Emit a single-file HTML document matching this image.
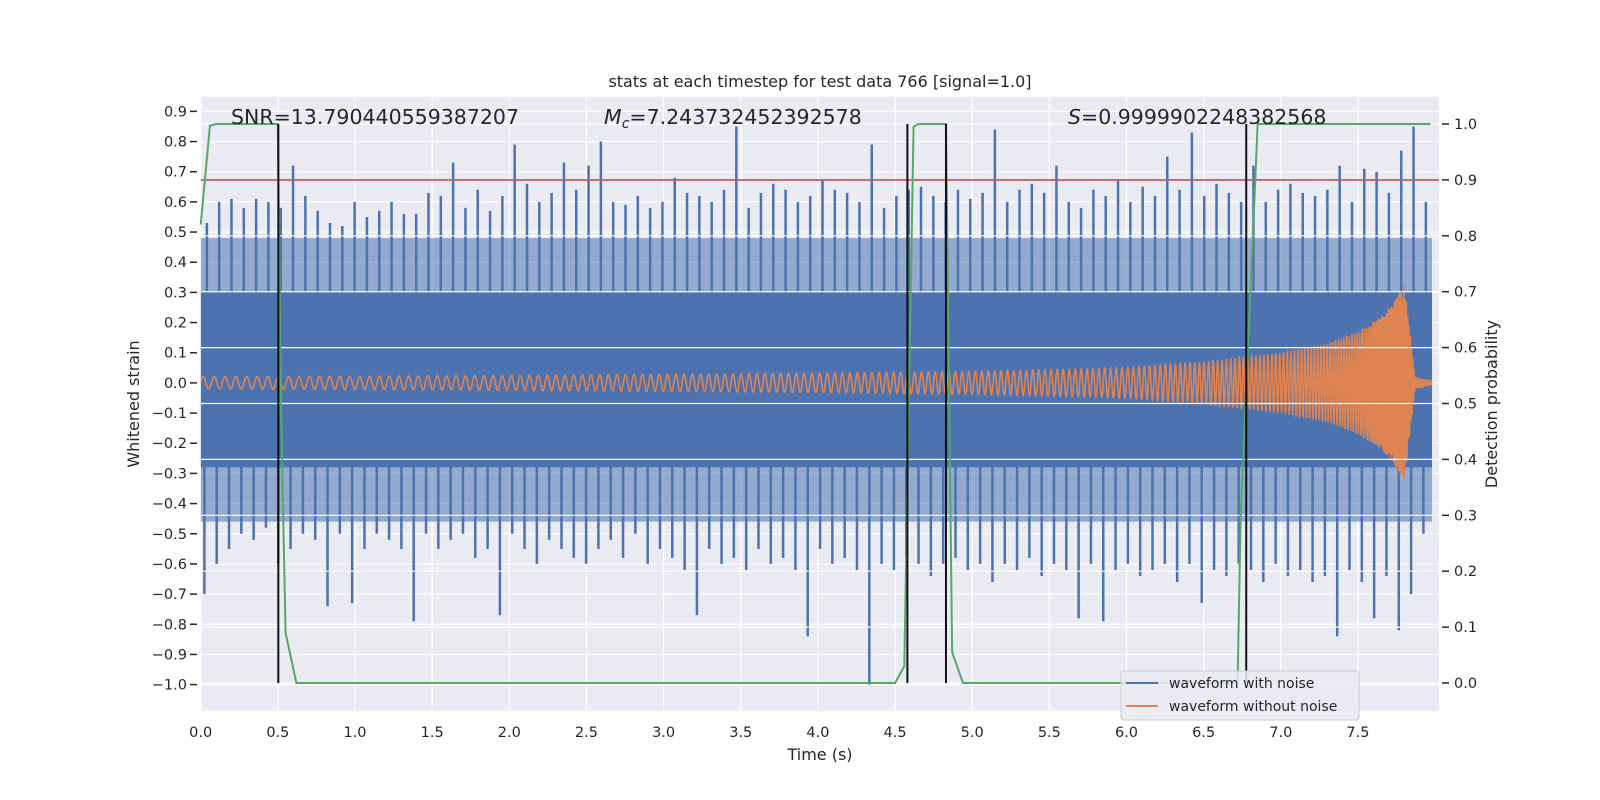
<!DOCTYPE html>
<html><head><meta charset="utf-8">
<style>
body{margin:0;background:#fff;}
svg{display:block;font-family:"DejaVu Sans","Liberation Sans",sans-serif;}
</style></head>
<body>
<svg id="chart" width="1600" height="800" viewBox="0 0 1600 800" xmlns="http://www.w3.org/2000/svg"></svg>
<script>
// ---- data ----
const xTicks=[0,0.5,1,1.5,2,2.5,3,3.5,4,4.5,5,5.5,6,6.5,7,7.5];
const yLeftTicks=[0.9,0.8,0.7,0.6,0.5,0.4,0.3,0.2,0.1,0,-0.1,-0.2,-0.3,-0.4,-0.5,-0.6,-0.7,-0.8,-0.9,-1.0];
const yRightTicks=[0,0.1,0.2,0.3,0.4,0.5,0.6,0.7,0.8,0.9,1.0];
const noiseUpper=[0.53,0.6,0.61,0.58,0.61,0.6,0.58,0.72,0.62,0.57,0.53,0.52,0.6,0.55,0.57,0.6,0.56,0.56,0.63,0.62,0.73,0.58,0.64,0.57,0.62,0.79,0.66,0.6,0.63,0.73,0.64,0.72,0.8,0.6,0.59,0.62,0.58,0.6,0.68,0.63,0.62,0.6,0.64,0.85,0.58,0.63,0.66,0.64,0.6,0.62,0.67,0.64,0.63,0.6,0.79,0.58,0.62,0.64,0.65,0.62,0.6,0.64,0.61,0.63,0.84,0.6,0.64,0.66,0.63,0.72,0.6,0.58,0.64,0.62,0.67,0.6,0.65,0.62,0.75,0.64,0.83,0.62,0.66,0.63,0.6,0.72,0.6,0.64,0.66,0.63,0.62,0.64,0.72,0.6,0.71,0.7,0.63,0.77,0.85,0.6];
const noiseLower=[-0.7,-0.6,-0.55,-0.5,-0.52,-0.48,-0.6,-0.55,-0.5,-0.52,-0.74,-0.5,-0.73,-0.55,-0.5,-0.52,-0.55,-0.79,-0.5,-0.55,-0.52,-0.5,-0.58,-0.55,-0.77,-0.5,-0.55,-0.6,-0.52,-0.55,-0.58,-0.6,-0.55,-0.52,-0.58,-0.5,-0.6,-0.55,-0.58,-0.62,-0.77,-0.55,-0.6,-0.58,-0.62,-0.55,-0.6,-0.58,-0.62,-0.84,-0.55,-0.6,-0.58,-0.62,-1.0,-0.6,-0.62,-0.58,-0.6,-0.64,-0.6,-0.58,-0.62,-0.6,-0.66,-0.6,-0.62,-0.58,-0.64,-0.6,-0.62,-0.78,-0.6,-0.79,-0.62,-0.6,-0.64,-0.62,-0.6,-0.66,-0.6,-0.73,-0.62,-0.64,-0.6,-0.62,-0.66,-0.6,-0.64,-0.62,-0.66,-0.64,-0.84,-0.62,-0.66,-0.78,-0.64,-0.82,-0.7,-0.5];
const chirpAmpT=[0,1,2,3,4,5,6,6.5,7,7.3,7.5,7.65,7.75,7.8,7.83,7.87,7.98];
const chirpAmp=[0.02,0.022,0.025,0.028,0.032,0.038,0.05,0.07,0.1,0.13,0.17,0.22,0.28,0.33,0.2,0.02,0.005];
const chirpFreqT=[0,2,4,6,7,7.5,7.8,7.98];
const chirpFreq=[14,17,20,27,40,60,120,120];
const probT=[0,0.06,0.1,0.5,0.52,0.55,0.62,4.5,4.56,4.62,4.65,4.83,4.87,4.94,6.72,6.74,6.85,7.97];
const probV=[0.82,0.997,1.0,1.0,0.5,0.09,0,0,0.03,0.995,1.0,1.0,0.055,0,0,0.3,1.0,1.0];
const detectLines=[0.503,4.58,4.83,6.776];
const threshold=[0.9];
// ---- scales ----
const X0=200.7,PX=154.3,L=200.7,R=1439,T=97,B=710.7;
const sx=t=>X0+t*PX;
const syL=v=>382.9-v*301.7;
const syR=p=>683-p*559;
const NS="http://www.w3.org/2000/svg";
const svg=document.getElementById('chart');
function mk(tag,attrs,parent){const e=document.createElementNS(NS,tag);for(const k in attrs)e.setAttribute(k,attrs[k]);(parent||svg).appendChild(e);return e;}
const defs=mk('defs',{});
const cp=mk('clipPath',{id:'clip'},defs);mk('rect',{x:L,y:T,width:R-L,height:B-T},cp);

let bg=mk('rect',{x:L,y:T,width:R-L,height:B-T,fill:'#eaeaf2'});


const gridL=mk('g',{stroke:'#fff','stroke-width':1.2});


xTicks.forEach(t=>mk('line',{x1:sx(t),x2:sx(t),y1:T,y2:B},gridL));
yLeftTicks.forEach(v=>mk('line',{x1:L,x2:R,y1:syL(v),y2:syL(v)},gridL));
const noiseG=mk('g',{'clip-path':'url(#clip)'});


const tEnd=7.98;
mk('rect',{x:sx(0),width:sx(tEnd)-sx(0),y:syL(0.3),height:syL(-0.28)-syL(0.3),fill:'#4c72b0'},noiseG);
mk('rect',{x:sx(0),width:sx(tEnd)-sx(0),y:syL(0.48),height:syL(0.3)-syL(0.48),fill:'#4c72b0',opacity:0.55},noiseG);
mk('rect',{x:sx(0),width:sx(tEnd)-sx(0),y:syL(-0.28),height:syL(-0.46)-syL(-0.28),fill:'#4c72b0',opacity:0.55},noiseG);
const bw=tEnd/noiseUpper.length;
noiseUpper.forEach((v,i)=>{const l=mk('line',{x1:sx((i+0.5)*bw),x2:sx((i+0.5)*bw),y1:syL(0),y2:syL(v),stroke:'#4c72b0','stroke-width':2.5},noiseG);

});
const bw2=tEnd/noiseLower.length;
noiseLower.forEach((v,i)=>{const l=mk('line',{x1:sx((i+0.3)*bw2),x2:sx((i+0.3)*bw2),y1:syL(0),y2:syL(v),stroke:'#4c72b0','stroke-width':2.5},noiseG);

});
function interp(ts,vs,t){if(t<=ts[0])return vs[0];for(let i=1;i<ts.length;i++){if(t<=ts[i]){const f=(t-ts[i-1])/(ts[i]-ts[i-1]);return vs[i-1]+f*(vs[i]-vs[i-1]);}}return vs[vs.length-1];}
let ph=0,pts=[];const dt=0.0015;
for(let t=0;t<=tEnd;t+=dt){const a=interp(chirpAmpT,chirpAmp,t);const f=interp(chirpFreqT,chirpFreq,t);ph+=2*Math.PI*f*dt;pts.push(sx(t).toFixed(2)+','+syL(a*Math.sin(ph)).toFixed(2));}
let ch=mk('polyline',{points:pts.join(' '),fill:'none',stroke:'#dd8452','stroke-width':1.6,'clip-path':'url(#clip)'});


const gridR=mk('g',{stroke:'#fff','stroke-width':1.2});


yRightTicks.forEach(p=>mk('line',{x1:L,x2:R,y1:syR(p),y2:syR(p)},gridR));
threshold.forEach(p=>{const l=mk('line',{x1:L,x2:R,y1:syR(p),y2:syR(p),stroke:'#c44e52','stroke-width':1.6});

});
let pp=probT.map((t,i)=>sx(t)+','+syR(probV[i])).join(' ');
let pl=mk('polyline',{points:pp,fill:'none',stroke:'#55a868','stroke-width':2});


detectLines.forEach(t=>{const l=mk('line',{x1:sx(t),x2:sx(t),y1:syR(0),y2:syR(1),stroke:'#111','stroke-width':2});

});
const tc='#262626';
xTicks.forEach(t=>{const tx=mk('text',{x:sx(t),y:737,'text-anchor':'middle','font-size':14.5,fill:tc});tx.textContent=t.toFixed(1);

});
yLeftTicks.forEach(v=>{mk('line',{x1:190,x2:197,y1:syL(v),y2:syL(v),stroke:tc,'stroke-width':1.5});const tx=mk('text',{x:187,y:syL(v)+5,'text-anchor':'end','font-size':14.5,fill:tc});tx.textContent=(v<0?'\u2212':'')+Math.abs(v).toFixed(1);

});
yRightTicks.forEach(p=>{mk('line',{x1:1442,x2:1449,y1:syR(p),y2:syR(p),stroke:tc,'stroke-width':1.5});const tx=mk('text',{x:1454,y:syR(p)+5,'font-size':14.5,fill:tc});tx.textContent=p.toFixed(1);

});
</script>
<svg style="position:absolute;left:0;top:0" width="1600" height="800">
<g font-family="DejaVu Sans, Liberation Sans, sans-serif" fill="#262626">
<text x="820" y="87" text-anchor="middle" font-size="16">stats at each timestep for test data 766 [signal=1.0]</text>
<text x="820" y="760" text-anchor="middle" font-size="16">Time (s)</text>
<text transform="translate(139,404) rotate(-90)" text-anchor="middle" font-size="16">Whitened strain</text>
<text transform="translate(1497,404) rotate(-90)" text-anchor="middle" font-size="16">Detection probability</text>
<text x="231" y="124" font-size="20.5">SNR=13.790440559387207</text>
<text x="604" y="124" font-size="20.5"><tspan font-style="italic">M</tspan><tspan font-style="italic" font-size="14" dy="4">c</tspan><tspan dy="-4">=7.243732452392578</tspan></text>
<text x="1068" y="124" font-size="20.5"><tspan font-style="italic">S</tspan>=0.9999902248382568</text>
</g>
<g>
<rect x="1121" y="671" width="238" height="49" rx="3" fill="#eaeaf2" fill-opacity="0.85" stroke="#cccccc"/>
<line x1="1126" y1="683" x2="1158" y2="683" stroke="#4c72b0" stroke-width="2"/>
<text x="1169" y="688" font-size="14" fill="#262626" font-family="DejaVu Sans, sans-serif">waveform with noise</text>
<line x1="1126" y1="706" x2="1158" y2="706" stroke="#dd8452" stroke-width="2"/>
<text x="1169" y="711" font-size="14" fill="#262626" font-family="DejaVu Sans, sans-serif">waveform without noise</text>
</g>
</svg>
</body></html>
